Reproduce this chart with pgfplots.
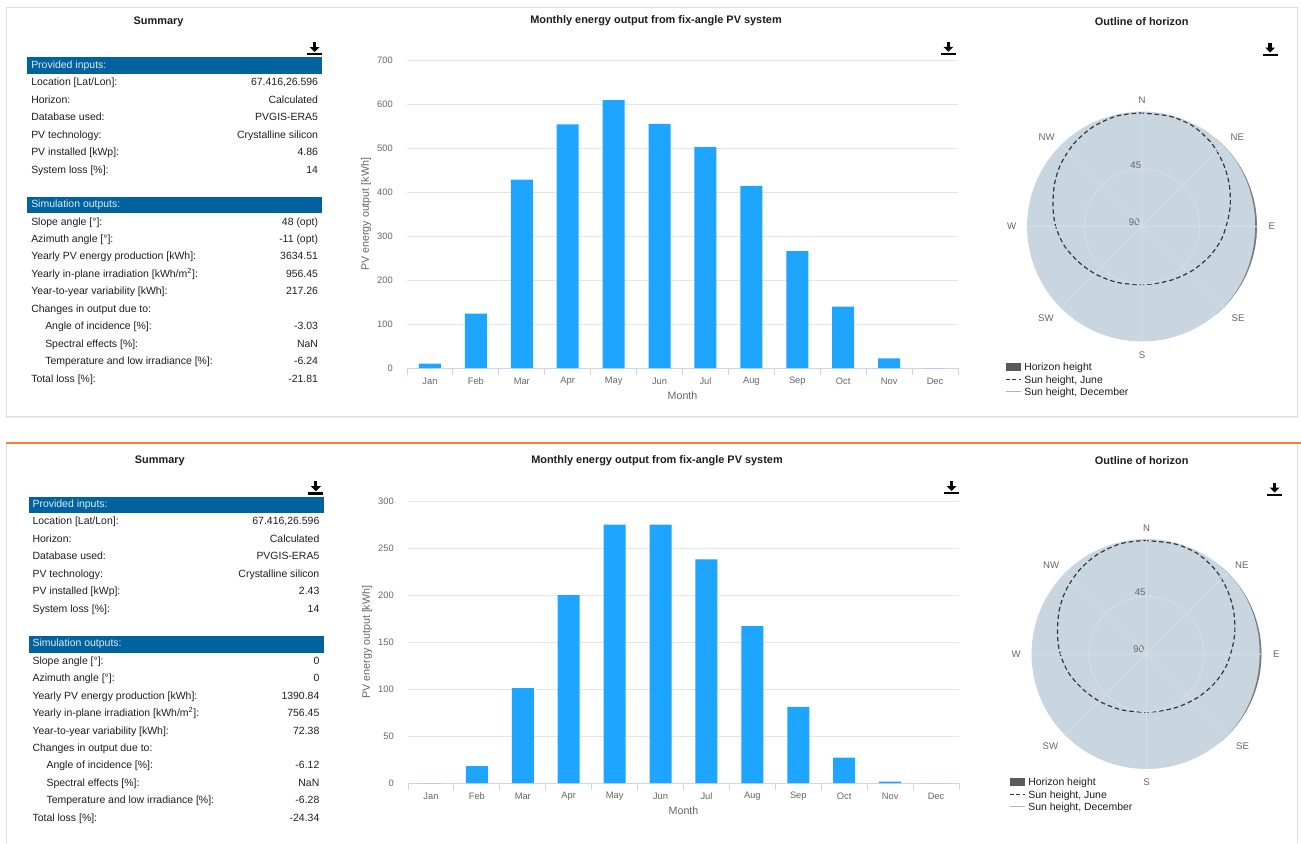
\documentclass[border=0pt]{standalone}
\usepackage{pgfplots}
\pgfplotsset{compat=1.18}
\usepgfplotslibrary{polar}
\usepackage{fontspec}
\setmainfont{Liberation Sans}
\definecolor{barblue}{RGB}{30,165,255}
\definecolor{gridc}{RGB}{230,230,230}
\definecolor{axc}{RGB}{204,214,235}
\definecolor{labc}{RGB}{102,102,102}
\definecolor{headc}{RGB}{0,99,160}
\definecolor{headt}{RGB}{225,235,245}
\definecolor{disc}{RGB}{201,213,223}
\definecolor{polgrid}{RGB}{214,222,229}
\definecolor{dashc}{RGB}{55,55,55}
\definecolor{horc}{RGB}{120,122,128}
\definecolor{legsw}{RGB}{90,90,90}
\definecolor{orangec}{RGB}{244,130,45}
\definecolor{panelc}{RGB}{222,222,222}
\definecolor{txt}{RGB}{30,30,30}

\newcommand\tf{\fontsize{7.85}{9}\selectfont}
\newcommand\ttl{\fontsize{8.2}{10}\selectfont\bfseries}

\newcommand\dl[2]{%
 \fill[black] ({#1-1.6},{#2-6.5}) rectangle ({#1+1.6},{#2-1.5});
 \fill[black] ({#1-5},{#2-1.5}) -- ({#1+5},{#2-1.5}) -- ({#1},{#2+3.5}) -- cycle;
 \fill[black] ({#1-7.5},{#2+4.5}) rectangle ({#1+7.5},{#2+6.8});
}
\newcommand\trow[3]{%
 \node[anchor=base west,inner sep=0pt,font=\tf,text=txt] at (31,{#1+3.7}) {#2};
 \node[anchor=base east,inner sep=0pt,font=\tf,text=txt] at (318.3,{#1+3.7}) {#3};}
\newcommand\tirow[3]{%
 \node[anchor=base west,inner sep=0pt,font=\tf,text=txt] at (45,{#1+3.7}) {#2};
 \node[anchor=base east,inner sep=0pt,font=\tf,text=txt] at (318.3,{#1+3.7}) {#3};}
\newcommand\summarytable[9]{%
 \node[font=\ttl, text=txt] at (158.5,22) {Summary};
 \dl{314.5}{48.5}
 \fill[headc] (27.3,57.3) rectangle (322.3,74);
 \node[anchor=base west,inner sep=0pt,font=\tf,text=headt] at (31,68.7) {Provided inputs:};
 \trow{82}{Location [Lat/Lon]:}{67.416,26.596}
 \trow{99.4}{Horizon:}{Calculated}
 \trow{116.9}{Database used:}{PVGIS-ERA5}
 \trow{134.3}{PV technology:}{Crystalline silicon}
 \trow{151.8}{PV installed [kWp]:}{#1}
 \trow{169.3}{System loss [\%]:}{14}
 \fill[headc] (27.3,196.7) rectangle (322.3,213.3);
 \node[anchor=base west,inner sep=0pt,font=\tf,text=headt] at (31,207.7) {Simulation outputs:};
 \trow{221.3}{Slope angle [°]:}{#2}
 \trow{238.7}{Azimuth angle [°]:}{#3}
 \trow{256.2}{Yearly PV energy production [kWh]:}{#4}
 \trow{273.6}{Yearly in-plane irradiation [kWh/m\textsuperscript{2}]:}{#5}
 \trow{291.1}{Year-to-year variability [kWh]:}{#6}
 \trow{308.5}{Changes in output due to:}{}
 \tirow{326}{Angle of incidence [\%]:}{#7}
 \tirow{343.4}{Spectral effects [\%]:}{NaN}
 \tirow{360.9}{Temperature and low irradiance [\%]:}{#8}
 \trow{378.3}{Total loss [\%]:}{#9}
}
\newcommand\hlegend[2]{%
 \fill[legsw] (#1,{#2-4}) rectangle ({#1+15},{#2+4});
 \draw[dashc, dash pattern=on 3pt off 1.8pt, line width=0.9pt] (#1,{#2+12.6}) -- ({#1+15},{#2+12.6});
 \draw[black!30, line width=0.75pt] (#1,{#2+25.1}) -- ({#1+15},{#2+25.1});
 \node[anchor=base west,inner sep=0pt,font=\tf,text=txt] at ({#1+18},{#2+3.7}) {Horizon height};
 \node[anchor=base west,inner sep=0pt,font=\tf,text=txt] at ({#1+18},{#2+16.3}) {Sun height, June};
 \node[anchor=base west,inner sep=0pt,font=\tf,text=txt] at ({#1+18},{#2+28.8}) {Sun height, December};
}

\pgfplotsset{
 barchart/.style={
  scale only axis, width=413.25pt,
  xmin=-0.5, xmax=11.5, ymin=0,
  axis x line*=bottom, axis y line*=left,
  x axis line style={draw=axc, line width=0.75pt},
  y axis line style={draw=none},
  xtick={0,...,11},
  xticklabels={Jan,Feb,Mar,Apr,May,Jun,Jul,Aug,Sep,Oct,Nov,Dec},
  minor xtick={-0.5,0.5,...,11.5},
  tick align=outside,
  major tick length=0pt, minor tick length=5.5pt,
  minor x tick style={draw=axc, line width=0.75pt},
  ymajorgrids, major grid style={draw=gridc, line width=0.75pt},
  tick label style={font=\fontsize{7}{8}\selectfont, text=labc},
  /pgf/number format/assume math mode=true,
  xticklabel style={anchor=center, yshift=-10pt},
  yticklabel style={anchor=east, inner sep=0pt, xshift=-10.5pt},
  xlabel={Month}, ylabel={PV energy output [kWh]},
  every axis x label/.style={at={(axis description cs:0.5,0)}, anchor=center, yshift=-21pt, font=\fontsize{8}{9}\selectfont, text=labc},
  every axis y label/.style={at={(axis description cs:0,0.5)}, anchor=center, rotate=90, yshift=30.6pt, font=\fontsize{8}{9}\selectfont, text=labc},
  ybar, bar width=0.48,
 },
 horizon/.style={
  scale only axis, width=172.5pt, height=172.5pt,
  anchor=origin,
  ymin=0, ymax=90,
  xtick={0,45,...,315}, ytick={45},
  xticklabels={}, yticklabels={},
  xticklabel style={text opacity=0}, yticklabel style={text opacity=0},
  major tick length=0pt,
  grid=major, major grid style={draw=polgrid, line width=0.75pt},
  axis line style={draw=none},
  axis on top, clip=false,
 }
}

\newcommand\horizonplots{%
 % sky disc (horizon height 0)
 \addplot[fill=disc, draw=none] coordinates {(0,90) (5,90) (10,90) (15,90) (20,90) (25,90) (30,90) (35,90) (40,90) (45,90) (50,90) (55,90) (60,90) (65,90) (70,90) (75,90) (80,90) (85,90) (90,90) (95,90) (100,90) (105,90) (110,90) (115,90) (120,90) (125,90) (130,90) (135,90) (140,90) (145,90) (150,90) (155,90) (160,90) (165,90) (170,90) (175,90) (180,90) (185,90) (190,90) (195,90) (200,90) (205,90) (210,90) (215,90) (220,90) (225,90) (230,90) (235,90) (240,90) (245,90) (250,90) (255,90) (260,90) (265,90) (270,90) (275,90) (280,90) (285,90) (290,90) (295,90) (300,90) (305,90) (310,90) (315,90) (320,90) (325,90) (330,90) (335,90) (340,90) (345,90) (350,90) (355,90)};
 % horizon height (east side)
 \addplot[fill=horc, draw=none] coordinates {(-50,90) (-45,89.95) (-40,89.8) (-35,89.6) (-30,89.4) (-25,89.2) (-20,89.0) (-15,88.8) (-10,88.7) (-5,88.6) (0,88.6) (5,88.7) (10,88.9) (15,89.0) (20,89.2) (25,89.4) (30,89.6) (35,89.8) (40,89.9) (45,89.97) (50,90) (45,90) (40,90) (35,90) (30,90) (25,90) (20,90) (15,90) (10,90) (5,90) (0,90) (-5,90) (-10,90) (-15,90) (-20,90) (-25,90) (-30,90) (-35,90) (-40,90) (-45,90) (-50,90)};
 % sun height, June
 \addplot[draw=dashc, dash pattern=on 3.4pt off 2.2pt, line width=0.9pt, smooth] coordinates {(91.2,88.9) (75.9,89.0) (63.1,88.1) (50.4,85.0) (38.2,80.6) (26.7,76.2) (15,71.6) (4.7,67.5) (-9.3,62.9) (-23.7,57.8) (-40.6,52.5) (-59.7,48.1) (-79.1,45.7) (-95.6,45.6) (-114.8,48.0) (-133.6,51.9) (-149.8,56.5) (-165.7,62.5) (-180.2,67.6) (-192.9,71.5) (-206.6,76.4) (-218.3,80.4) (-231.2,84.1) (-243.8,86.9) (-256.9,88.7) (-268.8,88.9)};
 \begin{scope}[every node/.style={font=\fontsize{7.2}{8}\selectfont, text=labc, inner sep=0pt}]
 \node at (axis cs:90,98.5) {N};
 \node at (axis cs:43,102) {NE};
 \node at (axis cs:0,101.5) {E};
 \node at (axis cs:316.3,104) {SE};
 \node at (axis cs:270,100.5) {S};
 \node at (axis cs:223.7,104) {SW};
 \node at (axis cs:180,102) {W};
 \node at (axis cs:137,102) {NW};
 \node[xshift=-4.7pt, yshift=3pt] at (axis cs:90,45) {45};
 \node[xshift=-5.8pt, yshift=3.6pt] at (axis cs:0,0) {90};
 \end{scope}
}

\begin{document}
\begin{tikzpicture}[x=0.75pt,y=-0.75pt]
\useasboundingbox (0,0) rectangle (1301,843);
\fill[white] (0,0) rectangle (1301,843);
% panels
\fill[black!8] (7,8.5) rectangle (1298,417.5);
\filldraw[draw=panelc, fill=white, line width=0.75pt] (6,7) rectangle (1297,416);
\draw[panelc, line width=0.75pt] (6,443) -- (6,843);
\draw[panelc, line width=0.75pt] (1297,443) -- (1297,843);
\draw[orangec, line width=1.3pt] (6,443.3) -- (1301,443.3);

% summary tables
\begin{scope}
\summarytable{4.86}{48 (opt)}{-11 (opt)}{3634.51}{956.45}{217.26}{-3.03}{-6.24}{-21.81}
\end{scope}
\begin{scope}[shift={(1.3,439.2)}]
\summarytable{2.43}{0}{0}{1390.84}{756.45}{72.38}{-6.12}{-6.28}{-24.34}
\end{scope}

% titles and icons
\node[font=\ttl, text=txt] at (656,21) {Monthly energy output from fix-angle PV system};
\node[font=\ttl, text=txt] at (657,460.5) {Monthly energy output from fix-angle PV system};
\node[font=\ttl, text=txt] at (1141.7,21.7) {Outline of horizon};
\node[font=\ttl, text=txt] at (1141.7,460.7) {Outline of horizon};
\dl{948.3}{48.3}
\dl{951.5}{487.5}
\dl{1270}{49}
\dl{1274.5}{489}

\hlegend{1006}{366.7}
\hlegend{1010}{781.7}

% top bar chart
\begin{axis}[barchart, at={(305.25pt,-276pt)}, anchor=south west, height=230.5pt,
  ymax=700, ytick={0,100,...,700}]
\addplot[fill=barblue, draw=none] coordinates {(0,10) (1,124) (2,429) (3,555) (4,610) (5,556) (6,503) (7,415) (8,266) (9,140) (10,22) (11,0)};
\end{axis}

% bottom bar chart
\begin{axis}[barchart, at={(306pt,-587.25pt)}, anchor=south west, height=211.5pt,
  ymax=300, ytick={0,50,...,300}]
\addplot[fill=barblue, draw=none] coordinates {(0,0) (1,18) (2,101) (3,200) (4,275) (5,275) (6,238) (7,167) (8,81) (9,27) (10,1.5) (11,0)};
\end{axis}

% horizon plots
\begin{polaraxis}[horizon, at={(856.5pt,-169.875pt)}]
\horizonplots
\end{polaraxis}
\begin{polaraxis}[horizon, at={(859.875pt,-490.5pt)}]
\horizonplots
\end{polaraxis}
\end{tikzpicture}
\end{document}
